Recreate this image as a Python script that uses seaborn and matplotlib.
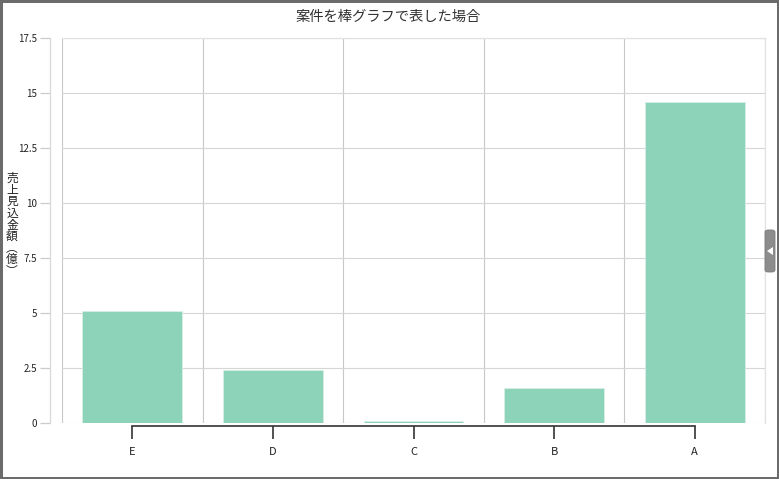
import matplotlib
matplotlib.use("Agg")
import matplotlib.pyplot as plt
import seaborn as sns
import pandas as pd
from matplotlib.patches import FancyBboxPatch, Polygon
from matplotlib.ticker import MultipleLocator, FixedLocator

# データ
categories = ["E", "D", "C", "B", "A"]
values = [5.1, 2.4, 0.07, 1.6, 14.6]
title = "案件を棒グラフで表した場合"
ylabel = "売上見込金額(億)"
yticks = [0, 2.5, 5, 7.5, 10, 12.5, 15, 17.5]
ytick_labels = ["0", "2.5", "5", "7.5", "10", "12.5", "15", "17.5"]

df = pd.DataFrame({"case": categories, "amount": values})

sns.set_theme(style="white")
plt.rcParams["font.family"] = ["Noto Sans CJK JP", "DejaVu Sans"]

fig = plt.figure(figsize=(7.79, 4.79), dpi=100)
fig.patch.set_edgecolor("#6b6b6b")
fig.patch.set_linewidth(2.5)
ax = fig.add_axes([62 / 779, 1 - 423 / 479, 703 / 779, 385 / 479])

sns.barplot(data=df, x="case", y="amount", order=categories, color="#8dd3b9",
            saturation=1, width=0.71, edgecolor="#d8eee5", linewidth=0.6, ax=ax)

ax.set_ylim(0, 17.5)
ax.set_xlim(-0.5, len(categories) - 0.5)
ax.yaxis.set_major_locator(FixedLocator(yticks))
ax.set_yticklabels(ytick_labels)
ax.xaxis.set_minor_locator(MultipleLocator(1, offset=0.5))
ax.grid(axis="y", which="major", color="#d6d6d6", linewidth=0.8)
ax.grid(axis="x", which="minor", color="#c8c8c8", linewidth=0.8)
ax.set_axisbelow(True)

for side in ["top", "right"]:
    ax.spines[side].set_visible(True)
    ax.spines[side].set_color("#e2e2e2")
    ax.spines[side].set_linewidth(0.9)
ax.spines["left"].set_position(("outward", 9))
ax.spines["left"].set_color("#d8d8d8")
ax.spines["left"].set_linewidth(0.9)
ax.spines["bottom"].set_position(("outward", 2))
ax.spines["bottom"].set_bounds(0, len(categories) - 1)
ax.spines["bottom"].set_color("#333333")
ax.spines["bottom"].set_linewidth(1.2)

ax.tick_params(axis="y", which="major", left=True, length=7, width=0.9,
               color="#cccccc", labelsize=7, labelcolor="#222222", pad=2)
ax.tick_params(axis="x", which="major", bottom=True, length=9, width=1.2,
               color="#333333", labelsize=8, labelcolor="#222222", pad=6)
ax.tick_params(axis="x", which="minor", bottom=False)

ax.set_xlabel("")
ax.set_ylabel("")
fig.text(12 / 779, 1 - 225 / 479, "\n".join("売上見込金額︵億︶"), ha="center", va="center",
         fontsize=8.5, linespacing=0.86, color="#222222")
fig.text(388 / 779, 1 - 17 / 479, title, ha="center", va="center",
         fontsize=10.3, color="#333333")

# 右側のタブ
tab = FancyBboxPatch((765 / 779, 1 - 272 / 479), 10 / 779, 42 / 479,
                     boxstyle="round,pad=0,rounding_size=0.004",
                     transform=fig.transFigure, facecolor="#8c8c8c",
                     edgecolor="#7a7a7a", linewidth=0.6)
fig.patches.append(tab)
tri = Polygon([(767 / 779, 1 - 251 / 479), (773 / 779, 1 - 247 / 479), (773 / 779, 1 - 255 / 479)],
              closed=True, transform=fig.transFigure, facecolor="white", edgecolor="none")
fig.patches.append(tri)

fig.savefig("out.png", dpi=100, edgecolor=fig.get_edgecolor())
